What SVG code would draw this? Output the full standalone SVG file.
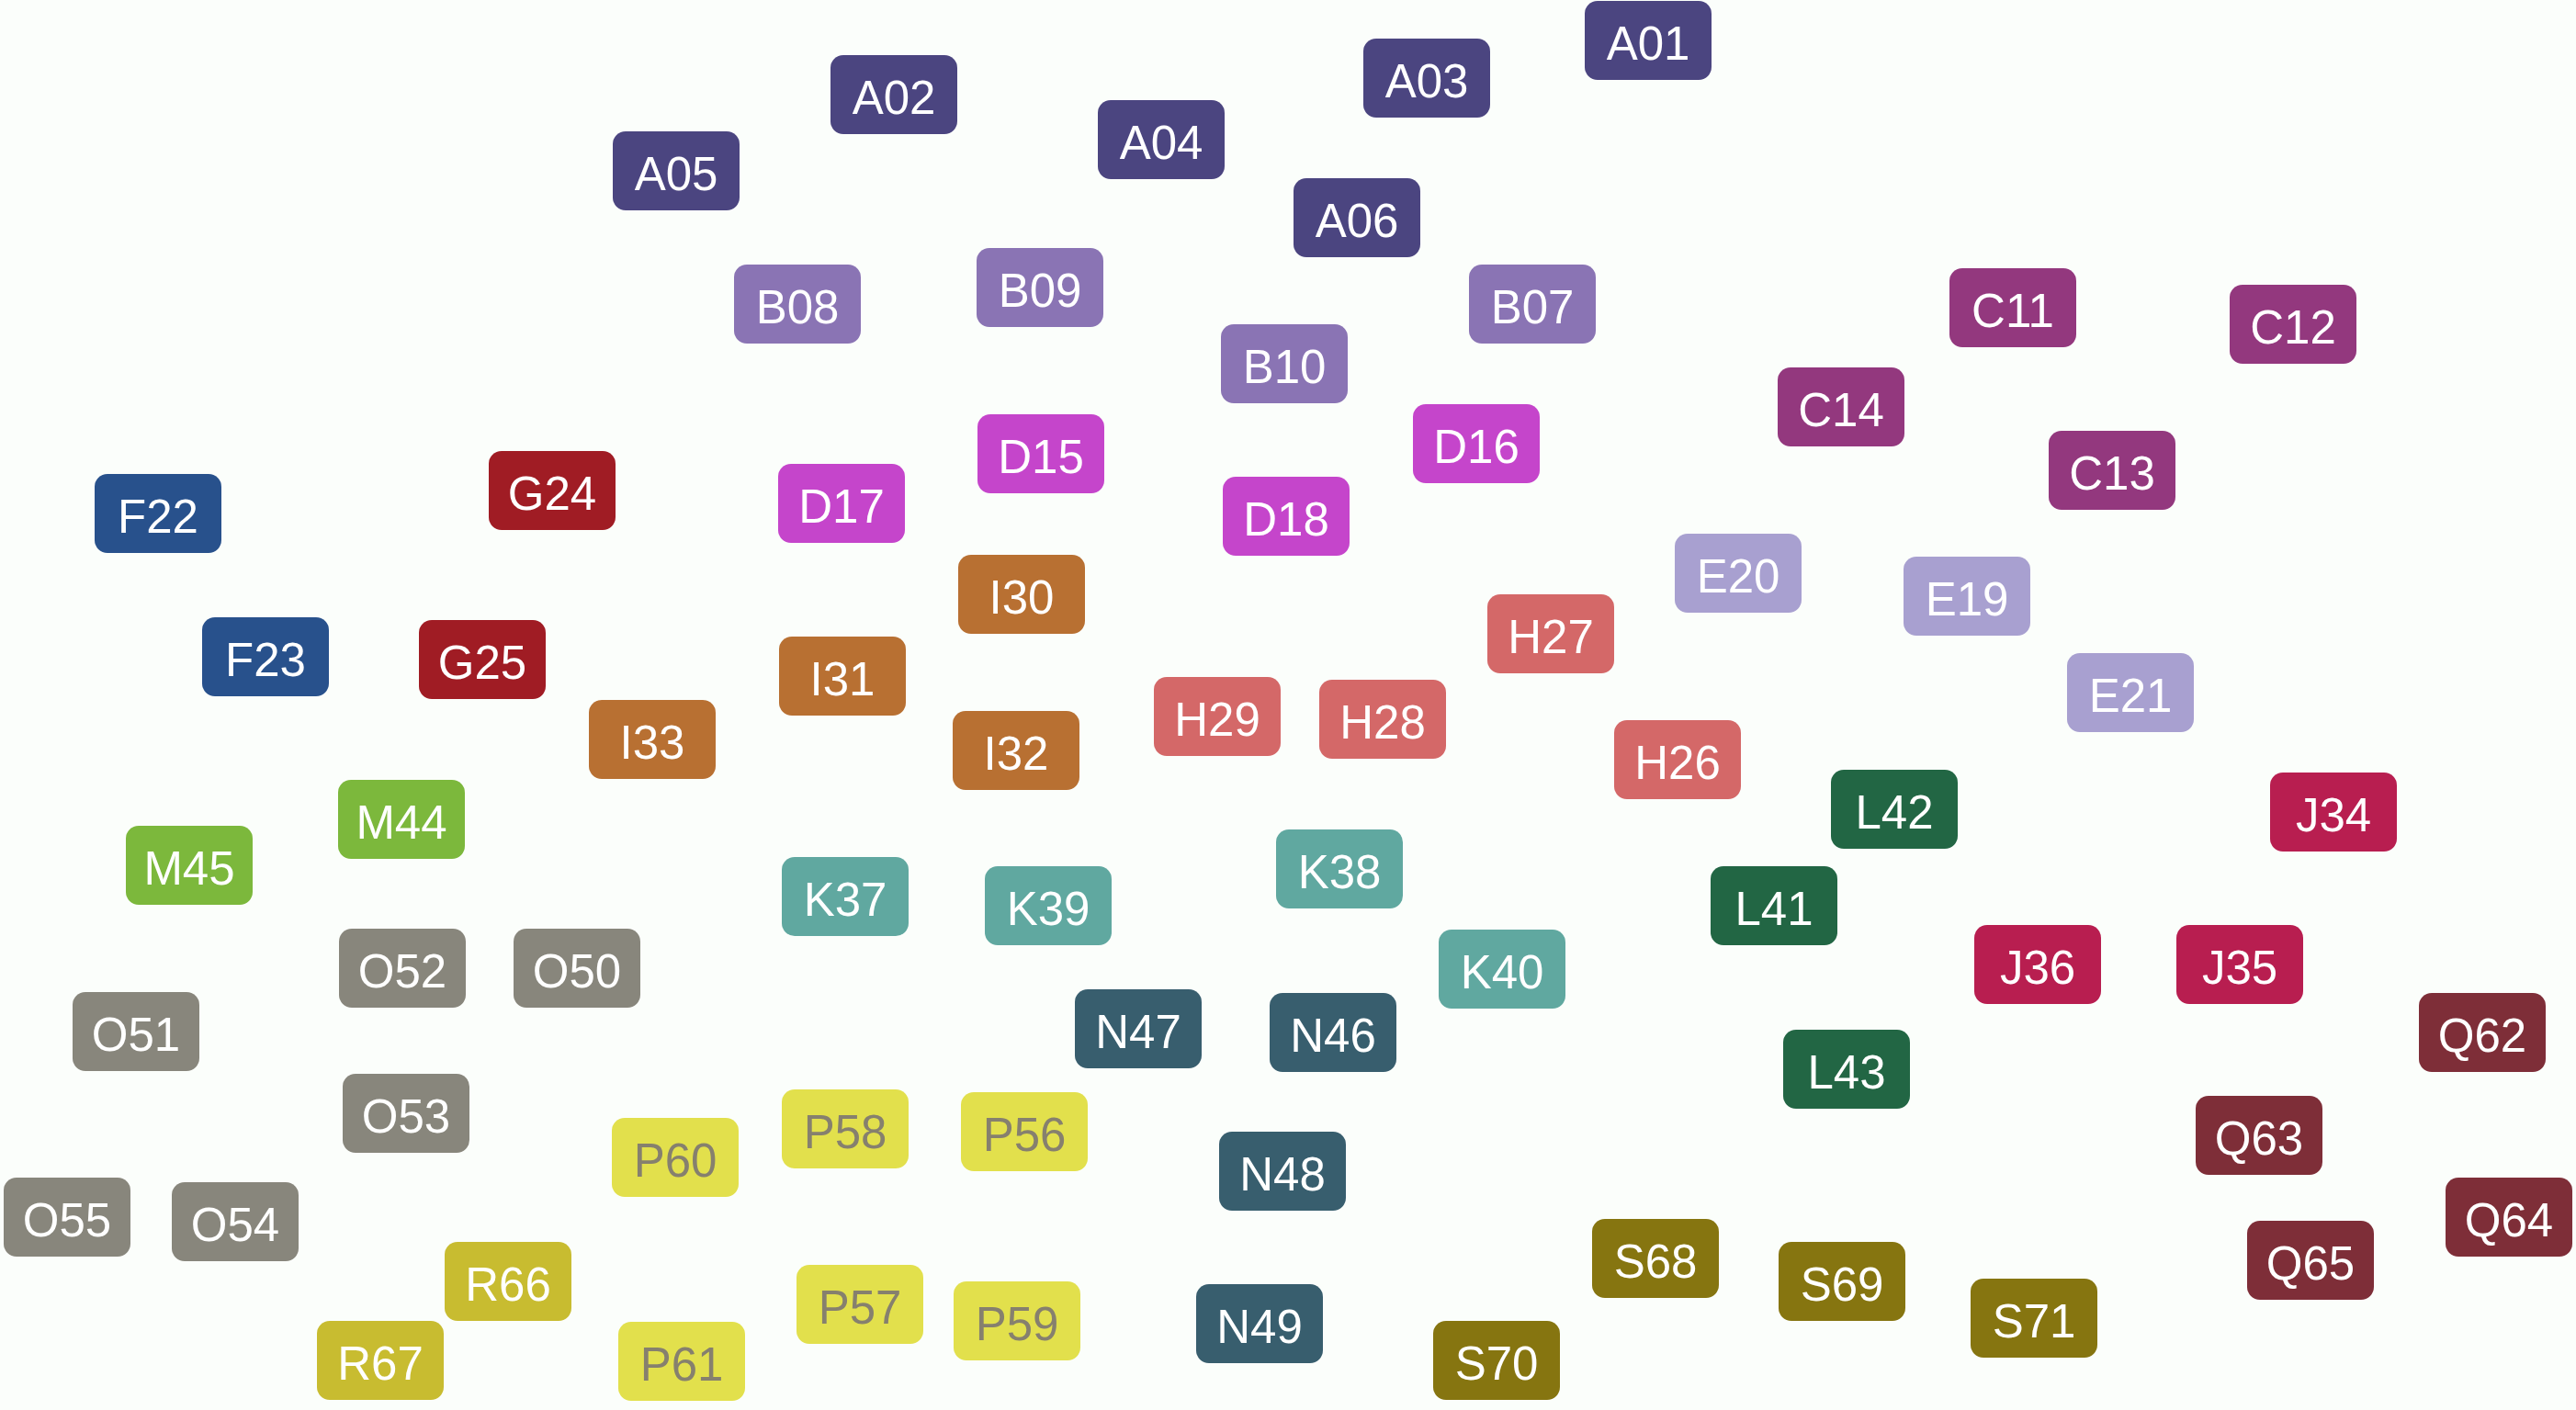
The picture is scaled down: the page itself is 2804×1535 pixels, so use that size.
<svg xmlns="http://www.w3.org/2000/svg" width="2804" height="1535" viewBox="0 0 2804 1535">
<style>
rect.n{width:138px;height:86px;rx:14px;ry:14px}
text{font-family:"Liberation Sans",Arial,sans-serif;font-size:51px;fill:#ffffff;text-anchor:middle}
.A rect{fill:#4b4580}.B rect{fill:#8a74b4}.C rect{fill:#93387e}.D rect{fill:#c545cb}
.E rect{fill:#a8a0d0}.F rect{fill:#28518c}.G rect{fill:#a01c24}.H rect{fill:#d46868}
.I rect{fill:#b87032}.J rect{fill:#b81e50}.K rect{fill:#60a8a0}.L rect{fill:#226644}
.M rect{fill:#7cb83c}.N rect{fill:#385e6e}.O rect{fill:#88867c}.P rect{fill:#e2e04c}
.Q rect{fill:#7e2e38}.R rect{fill:#c8bc30}.S rect{fill:#867510}
.P text{fill:#86806e}
</style>
<rect x="0" y="0" width="2804" height="1535" fill="#fbfefb"/>
<g id="connectors"></g>
<g id="nodes" transform="translate(0,2)">
<g id="A01" class="A"><rect class="n" x="1725" y="-1"/><text x="1794" y="63">A01</text></g>
<g id="A02" class="A"><rect class="n" x="904" y="58"/><text x="973" y="122">A02</text></g>
<g id="A03" class="A"><rect class="n" x="1484" y="40"/><text x="1553" y="104">A03</text></g>
<g id="A04" class="A"><rect class="n" x="1195" y="107"/><text x="1264" y="171">A04</text></g>
<g id="A05" class="A"><rect class="n" x="667" y="141"/><text x="736" y="205">A05</text></g>
<g id="A06" class="A"><rect class="n" x="1408" y="192"/><text x="1477" y="256">A06</text></g>
<g id="B07" class="B"><rect class="n" x="1599" y="286"/><text x="1668" y="350">B07</text></g>
<g id="B08" class="B"><rect class="n" x="799" y="286"/><text x="868" y="350">B08</text></g>
<g id="B09" class="B"><rect class="n" x="1063" y="268"/><text x="1132" y="332">B09</text></g>
<g id="B10" class="B"><rect class="n" x="1329" y="351"/><text x="1398" y="415">B10</text></g>
<g id="C11" class="C"><rect class="n" x="2122" y="290"/><text x="2191" y="354">C11</text></g>
<g id="C12" class="C"><rect class="n" x="2427" y="308"/><text x="2496" y="372">C12</text></g>
<g id="C13" class="C"><rect class="n" x="2230" y="467"/><text x="2299" y="531">C13</text></g>
<g id="C14" class="C"><rect class="n" x="1935" y="398"/><text x="2004" y="462">C14</text></g>
<g id="D15" class="D"><rect class="n" x="1064" y="449"/><text x="1133" y="513">D15</text></g>
<g id="D16" class="D"><rect class="n" x="1538" y="438"/><text x="1607" y="502">D16</text></g>
<g id="D17" class="D"><rect class="n" x="847" y="503"/><text x="916" y="567">D17</text></g>
<g id="D18" class="D"><rect class="n" x="1331" y="517"/><text x="1400" y="581">D18</text></g>
<g id="E19" class="E"><rect class="n" x="2072" y="604"/><text x="2141" y="668">E19</text></g>
<g id="E20" class="E"><rect class="n" x="1823" y="579"/><text x="1892" y="643">E20</text></g>
<g id="E21" class="E"><rect class="n" x="2250" y="709"/><text x="2319" y="773">E21</text></g>
<g id="F22" class="F"><rect class="n" x="103" y="514"/><text x="172" y="578">F22</text></g>
<g id="F23" class="F"><rect class="n" x="220" y="670"/><text x="289" y="734">F23</text></g>
<g id="G24" class="G"><rect class="n" x="532" y="489"/><text x="601" y="553">G24</text></g>
<g id="G25" class="G"><rect class="n" x="456" y="673"/><text x="525" y="737">G25</text></g>
<g id="H26" class="H"><rect class="n" x="1757" y="782"/><text x="1826" y="846">H26</text></g>
<g id="H27" class="H"><rect class="n" x="1619" y="645"/><text x="1688" y="709">H27</text></g>
<g id="H28" class="H"><rect class="n" x="1436" y="738"/><text x="1505" y="802">H28</text></g>
<g id="H29" class="H"><rect class="n" x="1256" y="735"/><text x="1325" y="799">H29</text></g>
<g id="I30" class="I"><rect class="n" x="1043" y="602"/><text x="1112" y="666">I30</text></g>
<g id="I31" class="I"><rect class="n" x="848" y="691"/><text x="917" y="755">I31</text></g>
<g id="I32" class="I"><rect class="n" x="1037" y="772"/><text x="1106" y="836">I32</text></g>
<g id="I33" class="I"><rect class="n" x="641" y="760"/><text x="710" y="824">I33</text></g>
<g id="J34" class="J"><rect class="n" x="2471" y="839"/><text x="2540" y="903">J34</text></g>
<g id="J35" class="J"><rect class="n" x="2369" y="1005"/><text x="2438" y="1069">J35</text></g>
<g id="J36" class="J"><rect class="n" x="2149" y="1005"/><text x="2218" y="1069">J36</text></g>
<g id="K37" class="K"><rect class="n" x="851" y="931"/><text x="920" y="995">K37</text></g>
<g id="K38" class="K"><rect class="n" x="1389" y="901"/><text x="1458" y="965">K38</text></g>
<g id="K39" class="K"><rect class="n" x="1072" y="941"/><text x="1141" y="1005">K39</text></g>
<g id="K40" class="K"><rect class="n" x="1566" y="1010"/><text x="1635" y="1074">K40</text></g>
<g id="L41" class="L"><rect class="n" x="1862" y="941"/><text x="1931" y="1005">L41</text></g>
<g id="L42" class="L"><rect class="n" x="1993" y="836"/><text x="2062" y="900">L42</text></g>
<g id="L43" class="L"><rect class="n" x="1941" y="1119"/><text x="2010" y="1183">L43</text></g>
<g id="M44" class="M"><rect class="n" x="368" y="847"/><text x="437" y="911">M44</text></g>
<g id="M45" class="M"><rect class="n" x="137" y="897"/><text x="206" y="961">M45</text></g>
<g id="N46" class="N"><rect class="n" x="1382" y="1079"/><text x="1451" y="1143">N46</text></g>
<g id="N47" class="N"><rect class="n" x="1170" y="1075"/><text x="1239" y="1139">N47</text></g>
<g id="N48" class="N"><rect class="n" x="1327" y="1230"/><text x="1396" y="1294">N48</text></g>
<g id="N49" class="N"><rect class="n" x="1302" y="1396"/><text x="1371" y="1460">N49</text></g>
<g id="O50" class="O"><rect class="n" x="559" y="1009"/><text x="628" y="1073">O50</text></g>
<g id="O51" class="O"><rect class="n" x="79" y="1078"/><text x="148" y="1142">O51</text></g>
<g id="O52" class="O"><rect class="n" x="369" y="1009"/><text x="438" y="1073">O52</text></g>
<g id="O53" class="O"><rect class="n" x="373" y="1167"/><text x="442" y="1231">O53</text></g>
<g id="O54" class="O"><rect class="n" x="187" y="1285"/><text x="256" y="1349">O54</text></g>
<g id="O55" class="O"><rect class="n" x="4" y="1280"/><text x="73" y="1344">O55</text></g>
<g id="P56" class="P"><rect class="n" x="1046" y="1187"/><text x="1115" y="1251">P56</text></g>
<g id="P57" class="P"><rect class="n" x="867" y="1375"/><text x="936" y="1439">P57</text></g>
<g id="P58" class="P"><rect class="n" x="851" y="1184"/><text x="920" y="1248">P58</text></g>
<g id="P59" class="P"><rect class="n" x="1038" y="1393"/><text x="1107" y="1457">P59</text></g>
<g id="P60" class="P"><rect class="n" x="666" y="1215"/><text x="735" y="1279">P60</text></g>
<g id="P61" class="P"><rect class="n" x="673" y="1437"/><text x="742" y="1501">P61</text></g>
<g id="Q62" class="Q"><rect class="n" x="2633" y="1079"/><text x="2702" y="1143">Q62</text></g>
<g id="Q63" class="Q"><rect class="n" x="2390" y="1191"/><text x="2459" y="1255">Q63</text></g>
<g id="Q64" class="Q"><rect class="n" x="2662" y="1280"/><text x="2731" y="1344">Q64</text></g>
<g id="Q65" class="Q"><rect class="n" x="2446" y="1327"/><text x="2515" y="1391">Q65</text></g>
<g id="R66" class="R"><rect class="n" x="484" y="1350"/><text x="553" y="1414">R66</text></g>
<g id="R67" class="R"><rect class="n" x="345" y="1436"/><text x="414" y="1500">R67</text></g>
<g id="S68" class="S"><rect class="n" x="1733" y="1325"/><text x="1802" y="1389">S68</text></g>
<g id="S69" class="S"><rect class="n" x="1936" y="1350"/><text x="2005" y="1414">S69</text></g>
<g id="S70" class="S"><rect class="n" x="1560" y="1436"/><text x="1629" y="1500">S70</text></g>
<g id="S71" class="S"><rect class="n" x="2145" y="1390"/><text x="2214" y="1454">S71</text></g>
</g>
</svg>
